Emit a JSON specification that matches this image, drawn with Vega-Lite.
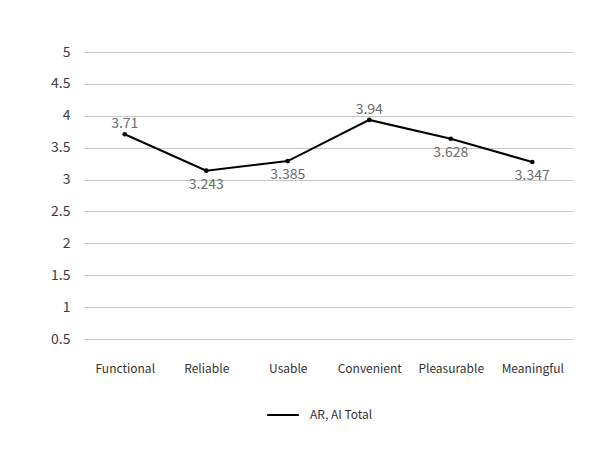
{
  "$schema": "https://vega.github.io/schema/vega-lite/v6.json",
  "width": 489,
  "height": 287,
  "autosize": "none",
  "padding": {"left": 84, "top": 52, "right": 34, "bottom": 114},
  "background": "white",
  "config": {"view": {"stroke": null}, "font": "Noto Sans CJK KR"},
  "data": {"values": [
    {"category": "Functional", "value": 3.71, "label": "3.71", "series": "AR, AI Total"},
    {"category": "Reliable", "value": 3.14, "label": "3.243", "series": "AR, AI Total"},
    {"category": "Usable", "value": 3.29, "label": "3.385", "series": "AR, AI Total"},
    {"category": "Convenient", "value": 3.935, "label": "3.94", "series": "AR, AI Total"},
    {"category": "Pleasurable", "value": 3.64, "label": "3.628", "series": "AR, AI Total"},
    {"category": "Meaningful", "value": 3.275, "label": "3.347", "series": "AR, AI Total"}
  ]},
  "encoding": {
    "x": {"field": "category", "type": "nominal", "sort": null,
      "scale": {"type": "point", "padding": 0.5},
      "axis": {"title": null, "labelAngle": 0, "ticks": false, "domain": false, "grid": false,
        "labelPadding": 24, "labelFontSize": 12, "labelColor": "#333333", "labelFont": "Noto Sans CJK KR"}},
    "y": {"field": "value", "type": "quantitative",
      "scale": {"domain": [0.5, 5], "nice": false, "zero": false},
      "axis": {"title": null, "values": [0.5, 1, 1.5, 2, 2.5, 3, 3.5, 4, 4.5, 5], "format": ".1~f",
        "ticks": false, "domain": false, "grid": true, "gridColor": "#c6c6c6", "gridWidth": 1,
        "labelPadding": 14, "labelFontSize": 14, "labelColor": "#404040", "labelFont": "Noto Sans CJK KR"}}
  },
  "layer": [
    {"mark": {"type": "line", "strokeWidth": 2},
     "encoding": {"color": {"field": "series", "type": "nominal",
       "scale": {"range": ["#000000"]},
       "legend": {"title": null, "orient": "none", "legendX": 182, "legendY": 346,
         "symbolType": "stroke", "symbolSize": 1000, "symbolStrokeWidth": 2, "symbolStrokeColor": "#000000",
         "labelFontSize": 12, "labelColor": "#333333", "labelFont": "Noto Sans CJK KR", "labelOffset": 10}}}},
    {"mark": {"type": "point", "filled": true, "size": 22, "color": "#000000", "opacity": 1}},
    {"transform": [{"filter": "datum.category === 'Functional' || datum.category === 'Convenient'"}],
     "mark": {"type": "text", "dy": -10, "fontSize": 14, "color": "#6b6b6b", "font": "Noto Sans CJK KR"},
     "encoding": {"text": {"field": "label"}}},
    {"transform": [{"filter": "datum.category !== 'Functional' && datum.category !== 'Convenient'"}],
     "mark": {"type": "text", "dy": 14, "fontSize": 14, "color": "#6b6b6b", "font": "Noto Sans CJK KR"},
     "encoding": {"text": {"field": "label"}}}
  ]
}
